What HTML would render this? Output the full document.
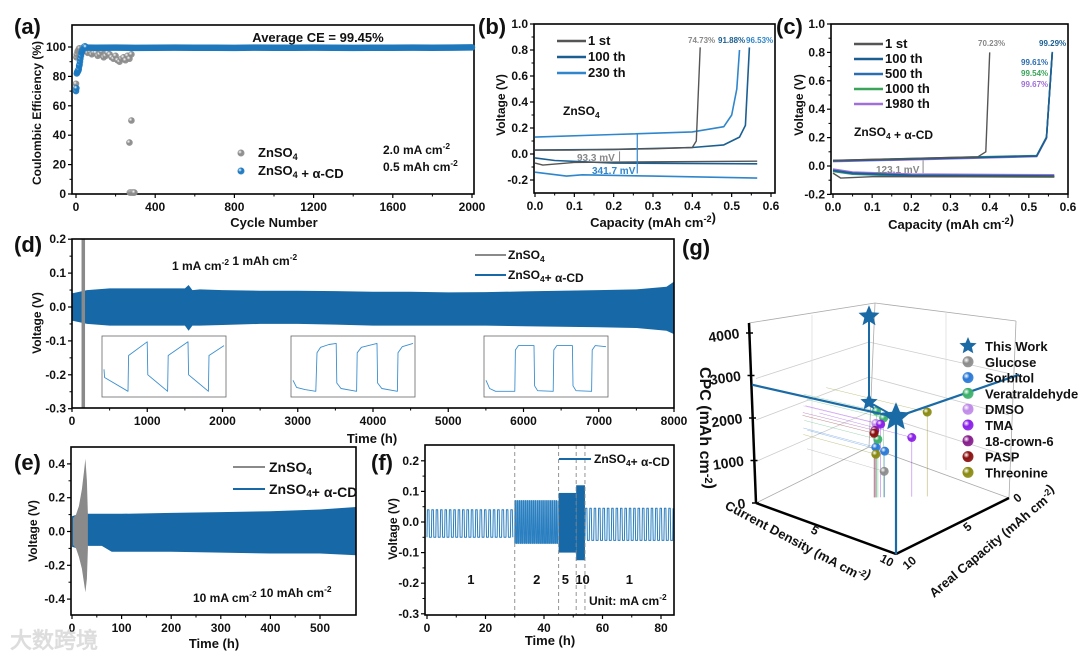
<!DOCTYPE html>
<html><head><meta charset="utf-8">
<style>
html,body{margin:0;padding:0;background:#fff;}
svg{display:block;font-family:"Liberation Sans Narrow","Liberation Sans",sans-serif;font-weight:bold;}
</style></head>
<body>
<svg id="chart" width="1080" height="658" viewBox="0 0 1080 658" xmlns="http://www.w3.org/2000/svg">
<defs id="defs"></defs>
</svg>
<script>
// ---------- data: panel a ----------
const aGrayCycles=[0,2,4,8,12,16,20,30,40,50,60,70,80,90,100,110,120,130,140,150,160,170,180,190,200,210,220,230,240,250,260,270,280,270,280,272,278,285,290,295];
const aGrayCE=[75,93,95,97,98,99,99,99,98,97,96,97,95,96,96,94,95,97,93,94,96,95,93,92,94,91,90,92,93,91,94,92,95,35,50,1,1,1,1,1];
const aBlueEarlyCycles=[0,2,4,6,8,10,12,14,16,18,20,22,25,28,30,33,36,40,45,50];
const aBlueEarlyCE=[70,72,82,83,83,84,84,85,87,88,90,92,94,96,97,98,99,100,100.5,100];
const aBlueCycles=[50,100,200,300,400,500,600,700,800,900,1000,1100,1200,1300,1400,1500,1600,1700,1800,1900,2000];
const aBlueCE=[99.6,99.5,99.6,99.4,99.5,99.6,99.5,99.5,99.4,99.6,99.5,99.5,99.6,99.5,99.4,99.5,99.5,99.6,99.5,99.6,99.7];
// ---------- data: panel b ----------
const b1Charge=[[0,0.03],[0.1,0.03],[0.3,0.04],[0.4,0.05],[0.41,0.1],[0.42,0.82]];
const b1Discharge=[[0,-0.07],[0.02,-0.085],[0.1,-0.065],[0.3,-0.06],[0.565,-0.055]];
const b100Charge=[[0,0.03],[0.2,0.035],[0.4,0.05],[0.48,0.07],[0.52,0.13],[0.535,0.22],[0.545,0.82]];
const b100Discharge=[[0,-0.03],[0.05,-0.05],[0.2,-0.07],[0.565,-0.075]];
const b230Charge=[[0,0.13],[0.2,0.15],[0.4,0.17],[0.48,0.21],[0.5,0.3],[0.513,0.5],[0.52,0.8]];
const b230Discharge=[[0,-0.14],[0.08,-0.17],[0.12,-0.16],[0.3,-0.17],[0.565,-0.185]];
// ---------- data: panel c ----------
const c1Charge=[[0,0.04],[0.37,0.065],[0.39,0.1],[0.4,0.8]];
const c1Discharge=[[0,-0.05],[0.02,-0.085],[0.1,-0.075],[0.565,-0.075]];
const cLongCharge=[[0,0.035],[0.3,0.055],[0.52,0.07],[0.545,0.2],[0.56,0.8]];
const cLongDischarge=[[0,-0.03],[0.05,-0.05],[0.2,-0.065],[0.565,-0.07]];
// ---------- data: panel d ----------
const dTimes=[0,200,500,1000,1500,1550,1600,1700,2000,2500,3000,3500,4000,4500,5000,5500,6000,6500,7000,7500,7900,8000];
const dUpper=[0.04,0.05,0.055,0.055,0.055,0.065,0.05,0.052,0.05,0.048,0.048,0.047,0.045,0.045,0.043,0.044,0.046,0.048,0.05,0.052,0.06,0.075];
const dLower=[-0.04,-0.05,-0.055,-0.055,-0.055,-0.07,-0.055,-0.055,-0.053,-0.05,-0.05,-0.052,-0.055,-0.055,-0.055,-0.055,-0.057,-0.058,-0.06,-0.062,-0.07,-0.08];
const dGrayTime=150;
const inset1=[[0,0.45],[0.005,0.3],[0.2,0.05],[0.205,0.7],[0.36,0.95],[0.365,0.35],[0.53,0.05],[0.535,0.7],[0.7,0.95],[0.705,0.35],[0.87,0.05],[0.875,0.7],[1,0.88]];
const inset2=[[0,0.25],[0.03,0.12],[0.1,0.08],[0.19,0.05],[0.2,0.75],[0.23,0.85],[0.3,0.9],[0.36,0.92],[0.365,0.2],[0.4,0.1],[0.53,0.05],[0.535,0.75],[0.57,0.85],[0.7,0.92],[0.705,0.2],[0.74,0.1],[0.87,0.05],[0.875,0.75],[0.91,0.86],[1,0.92]];
const inset3=[[0,0.25],[0.03,0.1],[0.08,0.05],[0.24,0.05],[0.245,0.8],[0.27,0.88],[0.4,0.88],[0.405,0.15],[0.43,0.06],[0.56,0.05],[0.565,0.8],[0.59,0.88],[0.72,0.88],[0.725,0.15],[0.75,0.06],[0.88,0.05],[0.885,0.8],[0.91,0.88],[1,0.86]];
// ---------- data: panel e ----------
const eTimes=[0,10,25,30,60,80,100,200,300,400,500,573];
const eUpper=[0.09,0.1,0.1,0.105,0.105,0.105,0.105,0.11,0.115,0.12,0.13,0.145];
const eLower=[-0.09,-0.1,-0.1,-0.085,-0.085,-0.12,-0.12,-0.12,-0.125,-0.13,-0.13,-0.14];
const eGrayTimes=[2,8,14,20,24,27,30,32];
const eGrayUpper=[0.08,0.1,0.15,0.25,0.35,0.43,0.3,0.1];
const eGrayLower=[-0.08,-0.1,-0.15,-0.22,-0.3,-0.36,-0.28,-0.1];
// ---------- data: panel f ----------
const fBounds=[0,30,45,51,54,84.4];
const fUpper=[0.04,0.07,0.095,0.12,0.045];
const fLower=[-0.05,-0.07,-0.1,-0.125,-0.06];
const fPeriod=[1.5,0.7,0.2,0.1,1.5];
const fRates=['1','2','5','10','1'];
// ---------- data: panel g ----------
const gNames=['Glucose','Sorbitol','Sorbitol','Veratraldehyde','Veratraldehyde','Veratraldehyde','DMSO','TMA','TMA','18-crown-6','PASP','Threonine','Threonine'];
const gCD=[4.8,4.47,4.82,4.55,4.5,4.78,4.47,4.66,5.89,4.43,4.4,4.47,6.5];
const gAC=[4.6,4.93,4.58,4.85,4.9,4.62,4.93,4.74,3.51,4.97,5.0,4.93,2.9];
const gCPC=[630,1220,1120,1410,2100,1930,1800,1780,1440,1630,1560,1050,2050];
const twCD=10, twAC=10, twCPC=2850;
const legendNames=['This Work','Glucose','Sorbitol','Veratraldehyde','DMSO','TMA','18-crown-6','PASP','Threonine'];

const NS='http://www.w3.org/2000/svg';
const svg=document.getElementById('chart');
const defs=document.getElementById('defs');
function mk(tag,attrs,name,parent){
  const e=document.createElementNS(NS,tag);
  for(const k in attrs) e.setAttribute(k,attrs[k]);
  
  
  (parent||svg).appendChild(e);
  return e;
}
function T(str,x,y,o,name){
  o=o||{};
  const t=mk('text',{x:x,y:y,'font-size':o.size||12,'text-anchor':o.anchor||'start',fill:o.fill||'#111'},name||'label');
  if(o.rot) t.setAttribute('transform','rotate('+o.rot+' '+x+' '+y+')');
  const parts=str.split(/(_\{[^}]*\}|\^\{[^}]*\})/);
  parts.forEach(p=>{
    if(!p) return;
    const ts=document.createElementNS(NS,'tspan');
    if(p[0]==='_'){ts.textContent=p.slice(2,-1);ts.setAttribute('font-size',(o.size||12)*0.7);ts.setAttribute('dy',3);t.appendChild(ts);const r=document.createElementNS(NS,'tspan');r.setAttribute('dy',-3);t.appendChild(r);}
    else if(p[0]==='^'){ts.textContent=p.slice(2,-1);ts.setAttribute('font-size',(o.size||12)*0.7);ts.setAttribute('dy',-5);t.appendChild(ts);const r=document.createElementNS(NS,'tspan');r.setAttribute('dy',5);t.appendChild(r);}
    else {ts.textContent=p;t.appendChild(ts);}
  });
  return t;
}
function lin(d0,d1,r0,r1){return v=>r0+(v-d0)*(r1-r0)/(d1-d0);}
function axes(p){
  const g=mk('g',{},p.name);
  mk('rect',{x:p.x0,y:p.y0,width:p.x1-p.x0,height:p.y1-p.y0,fill:'none',stroke:'#000','stroke-width':1.6},'plot-frame',g);
  p.xt.forEach((v,i)=>{
    const x=p.X(v);
    mk('line',{x1:x,x2:x,y1:p.y1,y2:p.y1+4,stroke:'#000','stroke-width':1.2},'x-tick',g);
    T(v.toFixed(p.xd),x,p.y1+17,{anchor:'middle',size:12},'x-tick-label');
    if(i<p.xt.length-1){const xm=p.X((v+p.xt[i+1])/2);mk('line',{x1:xm,x2:xm,y1:p.y1,y2:p.y1+2.5,stroke:'#000','stroke-width':1},'x-minor-tick',g);}
  });
  p.yt.forEach((v,i)=>{
    const y=p.Y(v);
    mk('line',{x1:p.x0-4,x2:p.x0,y1:y,y2:y,stroke:'#000','stroke-width':1.2},'y-tick',g);
    T(v.toFixed(p.yd),p.x0-6,y+4,{anchor:'end',size:12},'y-tick-label');
    if(i<p.yt.length-1){const ym=p.Y((v+p.yt[i+1])/2);mk('line',{x1:p.x0-2.5,x2:p.x0,y1:ym,y2:ym,stroke:'#000','stroke-width':1},'y-minor-tick',g);}
  });
  return g;
}
function range(a,b,s){const r=[];for(let v=a;v<=b+1e-9;v+=s)r.push(+v.toFixed(6));return r;}
function poly(pts,X,Y,stroke,w,name,parent){
  return mk('polyline',{points:pts.map(p=>X(p[0]).toFixed(1)+','+Y(p[1]).toFixed(1)).join(' '),fill:'none',stroke:stroke,'stroke-width':w||1.6,'stroke-linejoin':'round'},name,parent);
}
function grad(id,c){
  const g=mk('radialGradient',{id:id,cx:'35%',cy:'35%',r:'65%'},'gradient',defs);
  mk('stop',{offset:'0%','stop-color':'#fff'},'stop',g);
  mk('stop',{offset:'45%','stop-color':c},'stop',g);
  mk('stop',{offset:'100%','stop-color':c,'stop-opacity':0.9},'stop',g);
}
const BLUE='#1668a6', GRAY='#8a8a8a';
grad('gGray','#8c8c8c');grad('gBlue','#1b78c0');

// ================= Panel A =================
(function(){
  const X=lin(0,2000,76,472), Y=lin(0,100,194,47);
  const p={name:'panel-a-axes',x0:72,x1:474,y0:25,y1:194,X:X,Y:Y,xt:range(0,2000,400),yt:range(0,100,20),xd:0,yd:0};
  axes(p);
  T('(a)',14,34,{size:22},'panel-a-label');
  T('Cycle Number',274,227,{anchor:'middle',size:13},'x-axis-title');
  T('Coulombic Efficiency (%)',41,113,{anchor:'middle',size:12,rot:-90},'y-axis-title');
  T('Average CE = 99.45%',318,42,{anchor:'middle',size:13},'average-ce-annotation');
  const gg=mk('g',{},'series-znso4');
  aGrayCycles.forEach((c,i)=>{mk('circle',{cx:X(c),cy:Y(aGrayCE[i]),r:3.3,fill:'url(#gGray)'},'point-znso4',gg);});
  const gb=mk('g',{},'series-znso4-cd');
  poly(aBlueCycles.map((c,i)=>[c,aBlueCE[i]]),X,Y,'#1f78bc',6.5,'band-znso4-cd',gb).setAttribute('stroke-linecap','round');
  aBlueEarlyCycles.forEach((c,i)=>{mk('circle',{cx:X(c),cy:Y(aBlueEarlyCE[i]),r:3.3,fill:'url(#gBlue)'},'point-znso4-cd',gb);});
  mk('circle',{cx:241,cy:153,r:3.5,fill:'url(#gGray)'},'legend-marker-znso4');
  T('ZnSO_{4}',258,157,{size:13},'legend-entry-znso4');
  mk('circle',{cx:241,cy:171,r:3.5,fill:'url(#gBlue)'},'legend-marker-znso4-cd');
  T('ZnSO_{4} + α-CD',258,175,{size:13},'legend-entry-znso4-cd');
  T('2.0 mA cm^{-2}',383,154,{size:12},'current-density-note');
  T('0.5 mAh cm^{-2}',383,171,{size:12},'capacity-note');
})();

// ================= Panel B =================
(function(){
  const X=lin(0,0.6,535,771), Y=lin(0,1,154,24);
  axes({name:'panel-b-axes',x0:534,x1:775,y0:24,y1:193,X:X,Y:Y,xt:range(0,0.6,0.1),yt:range(-0.2,1.0,0.2),xd:1,yd:1});
  T('(b)',478,34,{size:22},'panel-b-label');
  T('Capacity (mAh cm^{-2})',653,227,{anchor:'middle',size:13},'x-axis-title');
  T('Voltage (V)',505,105,{anchor:'middle',size:12,rot:-90},'y-axis-title');
  const c1='#555', c100='#1b5f92', c230='#2f86cc';
  poly(b230Charge,X,Y,c230,1.6,'curve-230th-charge');poly(b230Discharge,X,Y,c230,1.6,'curve-230th-discharge');
  poly(b100Charge,X,Y,c100,1.6,'curve-100th-charge');poly(b100Discharge,X,Y,c100,1.6,'curve-100th-discharge');
  poly(b1Charge,X,Y,c1,1.4,'curve-1st-charge');poly(b1Discharge,X,Y,c1,1.4,'curve-1st-discharge');
  [['1 st',c1],['100 th',c100],['230 th',c230]].forEach((l,i)=>{
    mk('line',{x1:557,x2:586,y1:41+i*16,y2:41+i*16,stroke:l[1],'stroke-width':2.5},'legend-line');
    T(l[0],588,45+i*16,{size:13},'legend-entry');
  });
  T('ZnSO_{4}',563,115,{size:12},'electrolyte-label');
  T('74.73%',688,43,{size:8,fill:'#888'},'ce-label-1st');
  T('91.88%',718,43,{size:8,fill:c100},'ce-label-100th');
  T('96.53%',746,43,{size:8,fill:c230},'ce-label-230th');
  mk('line',{x1:X(0.26),x2:X(0.26),y1:Y(0.15),y2:Y(-0.15),stroke:c230,'stroke-width':1.2},'overpotential-arrow-230th');
  mk('line',{x1:X(0.215),x2:X(0.215),y1:Y(0.02),y2:Y(-0.06),stroke:'#888','stroke-width':1},'overpotential-arrow-1st');
  T('93.3 mV',577,161,{size:10,fill:'#888'},'overpotential-1st');
  T('341.7 mV',592,174,{size:10,fill:c230},'overpotential-230th');
})();

// ================= Panel C =================
(function(){
  const X=lin(0,0.6,833,1068), Y=lin(0,1,166,24);
  axes({name:'panel-c-axes',x0:831,x1:1068,y0:24,y1:194,X:X,Y:Y,xt:range(0,0.6,0.1),yt:range(-0.2,1.0,0.2),xd:1,yd:1});
  T('(c)',776,34,{size:22},'panel-c-label');
  T('Capacity (mAh cm^{-2})',951,229,{anchor:'middle',size:13},'x-axis-title');
  T('Voltage (V)',803,105,{anchor:'middle',size:12,rot:-90},'y-axis-title');
  const cols=['#555','#1b5f92','#2a6db0','#3aa55a','#a070d8'];
  const shift=[0,0,0.002,0.004,-0.004];
  [4,3,2,1].forEach(k=>{
    poly(cLongCharge.map(p=>[p[0],p[1]+shift[k]]),X,Y,cols[k],1.6,'curve-charge');
    poly(cLongDischarge.map(p=>[p[0],p[1]-shift[k]*2]),X,Y,cols[k],1.6,'curve-discharge');
  });
  poly(c1Charge,X,Y,cols[0],1.4,'curve-1st-charge');poly(c1Discharge,X,Y,cols[0],1.4,'curve-1st-discharge');
  ['1 st','100 th','500 th','1000 th','1980 th'].forEach((l,i)=>{
    mk('line',{x1:854,x2:883,y1:44+i*15,y2:44+i*15,stroke:cols[i],'stroke-width':2.5},'legend-line');
    T(l,885,48+i*15,{size:13},'legend-entry');
  });
  T('ZnSO_{4} + α-CD',854,136,{size:12},'electrolyte-label');
  T('70.23%',978,46,{size:8,fill:'#888'},'ce-label');
  T('99.29%',1039,46,{size:8,fill:'#1b5f92'},'ce-label');
  T('99.61%',1021,65,{size:8,fill:'#2a6db0'},'ce-label');
  T('99.54%',1021,76,{size:8,fill:'#3aa55a'},'ce-label');
  T('99.67%',1021,87,{size:8,fill:'#a070d8'},'ce-label');
  mk('line',{x1:X(0.23),x2:X(0.23),y1:Y(0.04),y2:Y(-0.05),stroke:'#888','stroke-width':1},'overpotential-arrow');
  T('123.1 mV',876,173,{size:10,fill:'#888'},'overpotential-label');
})();

// ================= Panel D =================
(function(){
  const X=lin(0,8000,72,674), Y=lin(0,0.1,307,273.1);
  const band=dTimes.map((t,i)=>X(t).toFixed(1)+','+Y(dUpper[i]).toFixed(1)).concat(dTimes.slice().reverse().map((t,j)=>{const i=dTimes.length-1-j;return X(t).toFixed(1)+','+Y(dLower[i]).toFixed(1);})).join(' ');
  mk('polygon',{points:band,fill:BLUE},'band-znso4-cd');
  mk('line',{x1:X(dGrayTime),x2:X(dGrayTime),y1:239,y2:408,stroke:GRAY,'stroke-width':3.5},'spike-znso4');
  axes({name:'panel-d-axes',x0:72,x1:674,y0:239,y1:408,X:X,Y:Y,xt:range(0,8000,1000),yt:range(-0.3,0.2,0.1),xd:0,yd:1});
  T('(d)',14,252,{size:22},'panel-d-label');
  T('Time (h)',372,443,{anchor:'middle',size:13},'x-axis-title');
  T('Voltage (V)',41,323,{anchor:'middle',size:12,rot:-90},'y-axis-title');
  T('1 mA cm^{-2}   1 mAh cm^{-2}',172,270,{size:12},'condition-note');
  mk('line',{x1:475,x2:506,y1:255,y2:255,stroke:GRAY,'stroke-width':2},'legend-line-znso4');
  T('ZnSO_{4}',508,259,{size:12},'legend-entry-znso4');
  mk('line',{x1:475,x2:506,y1:275,y2:275,stroke:BLUE,'stroke-width':2},'legend-line-znso4-cd');
  T('ZnSO_{4}+ α-CD',508,279,{size:12},'legend-entry-znso4-cd');
  [[inset1,102],[inset2,291],[inset3,484]].forEach((ins,k)=>{
    const g=mk('g',{},'inset-'+(k+1));
    mk('rect',{x:ins[1],y:336,width:124,height:61,fill:'#fff',stroke:'#666','stroke-width':0.8},'inset-frame',g);
    const ix=lin(0,1,ins[1]+2,ins[1]+122), iy=lin(0,1,394,339);
    poly(ins[0],ix,iy,'#3b8fd0',0.9,'inset-curve',g);
  });
})();

// ================= Panel E =================
(function(){
  const X=lin(0,500,72,320), Y=lin(0,0.2,531.5,497.7);
  const band=eTimes.map((t,i)=>X(t).toFixed(1)+','+Y(eUpper[i]).toFixed(1)).concat(eTimes.slice().reverse().map((t,j)=>{const i=eTimes.length-1-j;return X(t).toFixed(1)+','+Y(eLower[i]).toFixed(1);})).join(' ');
  mk('polygon',{points:band,fill:BLUE},'band-znso4-cd');
  const gb=eGrayTimes.map((t,i)=>X(t).toFixed(1)+','+Y(eGrayUpper[i]).toFixed(1)).concat(eGrayTimes.slice().reverse().map((t,j)=>{const i=eGrayTimes.length-1-j;return X(t).toFixed(1)+','+Y(eGrayLower[i]).toFixed(1);})).join(' ');
  mk('polygon',{points:gb,fill:GRAY},'band-znso4');
  axes({name:'panel-e-axes',x0:71,x1:356,y0:447,y1:615,X:X,Y:Y,xt:range(0,500,100),yt:range(-0.4,0.4,0.2),xd:0,yd:1});
  T('(e)',14,470,{size:22},'panel-e-label');
  T('Time (h)',214,648,{anchor:'middle',size:13},'x-axis-title');
  T('Voltage (V)',37,531,{anchor:'middle',size:12,rot:-90},'y-axis-title');
  mk('line',{x1:233,x2:265,y1:467,y2:467,stroke:GRAY,'stroke-width':2},'legend-line-znso4');
  T('ZnSO_{4}',269,472,{size:14},'legend-entry-znso4');
  mk('line',{x1:233,x2:265,y1:489,y2:489,stroke:BLUE,'stroke-width':2},'legend-line-znso4-cd');
  T('ZnSO_{4}+ α-CD',269,494,{size:14},'legend-entry-znso4-cd');
  T('10 mA cm^{-2}   10 mAh cm^{-2}',193,602,{size:12},'condition-note');
  T('大数跨境',10,648,{size:22,fill:'#ddd'},'watermark');
})();

// ================= Panel F =================
(function(){
  const X=lin(0,80,427,661), Y=lin(0,0.1,522,491.4);
  const g=mk('g',{},'series-znso4-cd');
  fBounds.slice(0,-1).forEach((b0,s)=>{
    const b1=fBounds[s+1], per=fPeriod[s];
    if(per<0.3){
      mk('rect',{x:X(b0),y:Y(fUpper[s]),width:X(b1)-X(b0),height:Y(fLower[s])-Y(fUpper[s]),fill:BLUE},'segment-block',g);
      return;
    }
    const pts=[];
    for(let t=b0;t<b1;t+=per){
      pts.push([t,fLower[s]],[t+per*0.1,fUpper[s]],[t+per*0.45,fUpper[s]],[t+per*0.55,fLower[s]]);
    }
    poly(pts.filter(p=>p[0]<=b1),X,Y,'#2a7fc0',1.0,'segment-wave',g);
  });
  [30,45,51,54].forEach(t=>{mk('line',{x1:X(t),x2:X(t),y1:445,y2:615,stroke:'#888','stroke-width':0.9,'stroke-dasharray':'4,3'},'rate-divider');});
  axes({name:'panel-f-axes',x0:425,x1:674,y0:445,y1:615,X:X,Y:Y,xt:range(0,80,20),yt:range(-0.3,0.2,0.1),xd:0,yd:1});
  T('(f)',371,470,{size:22},'panel-f-label');
  T('Time (h)',550,645,{anchor:'middle',size:13},'x-axis-title');
  T('Voltage (V)',397,529,{anchor:'middle',size:12,rot:-90},'y-axis-title');
  fRates.forEach((r,i)=>{
    const mid=(fBounds[i]+fBounds[i+1])/2;
    T(r,X(mid)+(i===2?-2:i===3?2:0),584,{anchor:'middle',size:13},'rate-label');
  });
  mk('line',{x1:559,x2:591,y1:459,y2:459,stroke:BLUE,'stroke-width':2},'legend-line');
  T('ZnSO_{4}+ α-CD',594,463,{size:12},'legend-entry');
  T('Unit: mA cm^{-2}',589,605,{size:12},'unit-note');
})();

// ================= Panel G (3D) =================
(function(){
  const colors={'Glucose':'#8c8c8c','Sorbitol':'#2979d6','Veratraldehyde':'#3cb06a','DMSO':'#c08ae8','TMA':'#8a1ee8','18-crown-6':'#861c8c','PASP':'#8b1010','Threonine':'#8a8a10'};
  Object.keys(colors).forEach((k,i)=>grad('gs'+i,colors[k]));
  const keyIdx=n=>Object.keys(colors).indexOf(n);
  function P(cd,ac,cpc){
    const depth=((10-cd)+(10-ac))/20;
    const v=0.048-0.013*depth;
    return [896+(10-cd)/10*(756-896)+(10-ac)/10*(1009-896), 554+(10-cd)/10*(503-554)+(10-ac)/10*(498-554)-cpc*v];
  }
  const G=mk('g',{},'panel-g-3d');
  [1000,2000,3000].forEach(c=>{
    const a=P(0,10,c),b=P(0,0,c),d=P(10,0,c);
    mk('polyline',{points:a.join(',')+' '+b.join(',')+' '+d.join(','),fill:'none',stroke:'#ccc','stroke-width':0.8},'grid-line',G);
  });
  [[749,323,875,303],[875,303,1016,321],[875,303,869,447],[869,447,756,503],[869,447,1009,498],[1016,321,1009,498]].forEach(l=>{
    mk('line',{x1:l[0],y1:l[1],x2:l[2],y2:l[3],stroke:'#aaa','stroke-width':0.8},'box-edge',G);
  });
  [[812,315,812,475],[946,312,946,470]].forEach(l=>mk('line',{x1:l[0],y1:l[1],x2:l[2],y2:l[3],stroke:'#ddd','stroke-width':0.8},'grid-line',G));
  mk('line',{x1:749,y1:323,x2:756,y2:503,stroke:'#000','stroke-width':2.5},'cpc-axis',G);
  mk('line',{x1:756,y1:503,x2:896,y2:554,stroke:'#000','stroke-width':2.5},'current-density-axis',G);
  mk('line',{x1:896,y1:554,x2:1009,y2:498,stroke:'#000','stroke-width':2.5},'areal-capacity-axis',G);
  [0,1000,2000,3000,4000].forEach(c=>{
    const y=503-c*0.0425;
    mk('line',{x1:752-(c/4000)*6,x2:759-(c/4000)*6,y1:y,y2:y,stroke:'#000','stroke-width':1.5},'cpc-tick',G);
    T(String(c),746-(c/4000)*6,y+5,{anchor:'end',size:14,rot:-8},'cpc-tick-label');
  });
  T('CPC (mAh cm^{-2})',700,428,{anchor:'middle',size:16,rot:90},'cpc-axis-title');
  T('5',813,534,{anchor:'middle',size:12,rot:28},'cd-tick-label');
  T('10',885,564,{anchor:'middle',size:12,rot:28},'cd-tick-label');
  T('10',912,566,{anchor:'middle',size:12,rot:-40},'ac-tick-label');
  T('5',970,530,{anchor:'middle',size:12,rot:-40},'ac-tick-label');
  T('0',1020,501,{anchor:'middle',size:12,rot:-40},'ac-tick-label');
  T('Current Density (mA cm^{-2})',795,546,{anchor:'middle',size:13,rot:28},'current-density-title');
  T('Areal Capacity (mAh cm^{-2})',996,546,{anchor:'middle',size:13,rot:-40},'areal-capacity-title');
  T('(g)',682,255,{size:22},'panel-g-label');
  gNames.forEach((n,i)=>{
    const c=colors[n];
    const p=P(gCD[i],gAC[i],gCPC[i]), f=P(gCD[i],gAC[i],0), w=P(0,gAC[i],gCPC[i]);
    mk('line',{x1:p[0],y1:p[1],x2:f[0],y2:f[1],stroke:c,'stroke-width':0.6,opacity:0.6},'drop-line',G);
    mk('line',{x1:p[0],y1:p[1],x2:w[0]-10,y2:w[1],stroke:c,'stroke-width':0.5,opacity:0.5},'wall-line',G);
  });
  gNames.forEach((n,i)=>{
    const p=P(gCD[i],gAC[i],gCPC[i]);
    mk('circle',{cx:p[0],cy:p[1],r:4.5,fill:'url(#gs'+keyIdx(n)+')'},'sphere-'+n.toLowerCase(),G);
  });
  function star(cx,cy,r,name){
    const pts=[];for(let k=0;k<10;k++){const a=-Math.PI/2+k*Math.PI/5;const rr=k%2?r*0.45:r;pts.push((cx+rr*Math.cos(a)).toFixed(1)+','+(cy+rr*Math.sin(a)).toFixed(1));}
    return mk('polygon',{points:pts.join(' '),fill:'#1a6aa6'},name,G);
  }
  const tw=P(twCD,twAC,twCPC), twF=P(twCD,twAC,0), twL=P(0,twAC,twCPC), twR=P(twCD,0,twCPC);
  const twTop=P(0,0,twCPC*1.31), twMid=P(0,0,twCPC*0.45);
  mk('line',{x1:tw[0],y1:tw[1],x2:twF[0],y2:twF[1],stroke:'#1a6aa6','stroke-width':2.2},'this-work-drop-line',G);
  mk('line',{x1:tw[0],y1:tw[1],x2:twL[0]-4,y2:twL[1],stroke:'#1a6aa6','stroke-width':2.2},'this-work-wall-line',G);
  mk('line',{x1:tw[0],y1:tw[1],x2:twR[0]+10,y2:twR[1]-5,stroke:'#1a6aa6','stroke-width':2.2},'this-work-wall-line',G);
  mk('line',{x1:twTop[0],y1:twTop[1],x2:twMid[0],y2:twMid[1],stroke:'#1a6aa6','stroke-width':2},'this-work-projection-line',G);
  mk('line',{x1:twMid[0],y1:twMid[1],x2:tw[0],y2:tw[1],stroke:'#1a6aa6','stroke-width':2},'this-work-projection-line',G);
  star(twTop[0],twTop[1],11,'this-work-star-top');
  star(twMid[0],twMid[1],9,'this-work-star-mid');
  star(tw[0],tw[1],15,'this-work-star');
  legendNames.forEach((n,i)=>{
    const y=346+i*15.8;
    if(i===0) star(968,y,9,'legend-marker-this-work');
    else mk('circle',{cx:968,cy:y,r:5.5,fill:'url(#gs'+keyIdx(n)+')'},'legend-marker',G);
    T(n,985,y+5,{size:13},'legend-entry-'+n.toLowerCase());
  });
})();
</script>
</body></html>
